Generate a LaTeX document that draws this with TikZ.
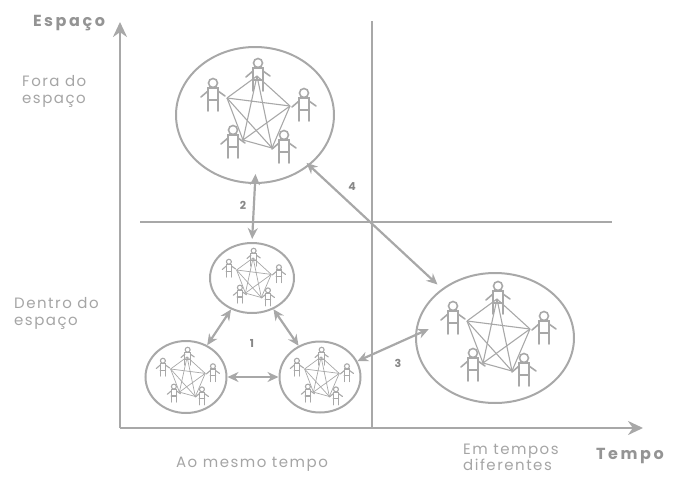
\documentclass[tikz,border=0pt]{standalone}
\usepackage{fontspec}
\setmainfont{Poppins}
\newfontfamily\labfont{Poppins}[LetterSpace=10]
\newfontfamily\titlefont{Poppins}[LetterSpace=16]
\usetikzlibrary{shapes.geometric,arrows.meta}
\definecolor{linegray}{RGB}{168,168,168}
\definecolor{textgray}{RGB}{165,165,165}
\definecolor{numgray}{RGB}{135,135,135}
\tikzset{
  person/.pic={
    \draw[fig] (0,0) circle (4.5);
    \draw[fig] (-5,28) -- (-5,5) -- (5,5) -- (5,28);
    \draw[fig] (-5,17) -- (5,17);
    \draw[fig] (-5,8) -- (-12,14);
    \draw[fig] (5,8) -- (12,13);
  },
  crowd/.pic={
    \foreach \i/\px/\py in {1/-28/-20, 2/2/-42, 3/35/-12, 4/-12/22, 5/17/30}
      \coordinate (-p\i) at (\px,\py);
    \foreach \i in {1,...,5}
      \foreach \j in {1,...,5}
        {\ifnum\i<\j \draw[net] (-p\i) -- (-p\j);\fi}
    \foreach \hx/\hy in {-42/-35, 3/-55, 49/-25, -22/12, 29/17}
      \pic[transform shape] at (\hx,\hy) {person};
  }
}
\begin{document}
\begin{tikzpicture}[x=1pt,y=-1pt,
    fig/.style={draw=linegray, line width=1.6pt, line cap=round},
    net/.style={draw=linegray, line width=1.1pt},
    grp/.style={ellipse, draw=linegray, line width=2pt, inner sep=0pt},
    axis/.style={draw=linegray, line width=2.6pt},
    link/.style={{Stealth[length=11pt,width=10pt]}-{Stealth[length=11pt,width=10pt]}, draw=linegray, line width=2.2pt},
    lab/.style={text=textgray, font=\labfont\fontsize{15}{17}\selectfont, inner sep=0pt},
    ttl/.style={text=textgray!90!black, font=\titlefont\bfseries\fontsize{16}{18}\selectfont, inner sep=0pt},
    num/.style={text=numgray, font=\bfseries\fontsize{11}{13}\selectfont, inner sep=0pt}]
    \useasboundingbox (0,0) rectangle (673,477);

    \coordinate (o) at (120,428);
    \coordinate (ytip) at (120,22);
    \coordinate (xtip) at (643,428);
    \coordinate (vtop) at (372,21);
    \coordinate (vbot) at (372,428);
    \coordinate (hl) at (140,222);
    \coordinate (hr) at (612,222);
    \draw[axis, -{Stealth[length=15pt,width=14pt]}] (o) -- (ytip);
    \draw[axis, -{Stealth[length=15pt,width=14pt]}] (o) -- (xtip);
    \draw[axis, line width=2.2pt] (vtop) -- (vbot);
    \draw[axis, line width=2.2pt] (hl) -- (hr);

    \node[ttl, anchor=base] (espaco) at (69,26) {Espaço};
    \node[lab, align=left, anchor=base west] (fora) at (22,103) {Fora do\\espaço};
    \node[lab, align=left, anchor=base west] (dentro) at (14,325) {Dentro do\\espaço};
    \node[lab, anchor=base] (mesmo) at (252,467) {Ao mesmo tempo};
    \node[lab, align=left, anchor=base west, font=\labfont\fontsize{15}{16}\selectfont] (dif) at (463,470) {Em tempos\\diferentes};
    \node[ttl, anchor=base] (tempo) at (630,459) {Tempo};

    \node[grp, minimum width=158, minimum height=136] (top) at (255,115) {};
    \node[grp, minimum width=158, minimum height=130] (right) at (495,338) {};
    \node[grp, minimum width=84, minimum height=70] (mid) at (252,278) {};
    \node[grp, minimum width=81, minimum height=72] (bl) at (186,377) {};
    \node[grp, minimum width=81, minimum height=71] (br) at (320,377) {};

    \pic (gtop) at (255,118) {crowd};
    \pic (gright) at (495,341) {crowd};
    \foreach \g/\cx/\cy in {gmid/252/281, gbl/186/380, gbr/320/380}
        \pic[scale=0.55, fig/.style={draw=linegray, line width=1.1pt, line cap=round},
             net/.style={draw=linegray, line width=0.7pt}] (\g) at (\cx,\cy) {crowd};

    \draw[link, shorten <=-10pt, shorten >=3pt] (top.south) -- (mid.north);
    \draw[link, shorten <=-4pt, shorten >=6pt] (top) -- (right);
    \draw[link] (mid) -- (bl);
    \draw[link] (mid) -- (br);
    \draw[link] (bl) -- (br);
    \draw[link, shorten >=-15pt] (br.23) -- (right.178);

    \node[num] (n2) at (243,205) {2};
    \node[num] (n4) at (352,187) {4};
    \node[num] (n1) at (252,343) {1};
    \node[num] (n3) at (398,363) {3};
\end{tikzpicture}
\end{document}
